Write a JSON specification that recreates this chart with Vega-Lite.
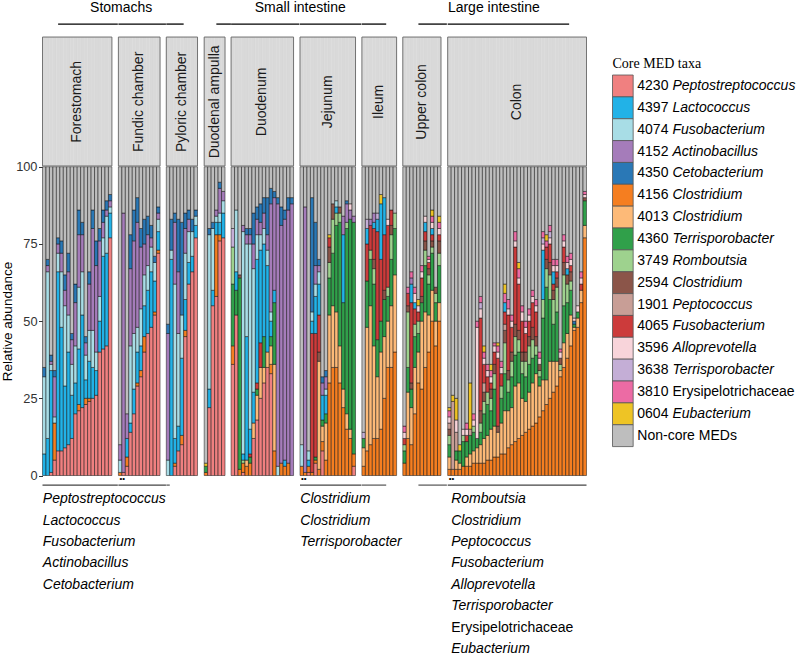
{
"$schema":"https://vega.github.io/schema/vega-lite/v6.json",
"padding":{"left":0.5,"top":0,"right":0,"bottom":0},
"background":"white",
"config":{"view":{"stroke":null,"discreteWidth":{"step":3.47}},"font":"Liberation Sans"},
"spacing":24,
"datasets":{
"taxa":[
{"med":"4230","code":"4230","name":"Peptostreptococcus"},
{"med":"4397","code":"4397","name":"Lactococcus"},
{"med":"4074","code":"4074","name":"Fusobacterium"},
{"med":"4152","code":"4152","name":"Actinobacillus"},
{"med":"4350","code":"4350","name":"Cetobacterium"},
{"med":"4156","code":"4156","name":"Clostridium"},
{"med":"4013","code":"4013","name":"Clostridium"},
{"med":"4360","code":"4360","name":"Terrisporobacter"},
{"med":"3749","code":"3749","name":"Romboutsia"},
{"med":"2594","code":"2594","name":"Clostridium"},
{"med":"1901","code":"1901","name":"Peptococcus"},
{"med":"4065","code":"4065","name":"Fusobacterium"},
{"med":"3596","code":"3596","name":"Alloprevotella"},
{"med":"3638","code":"3638","name":"Terrisporobacter"},
{"med":"3810","code":"3810","name":"Erysipelotrichaceae"},
{"med":"0604","code":"0604","name":"Eubacterium"},
{"med":"noncore","code":"Non-core MEDs","name":""}
],
"bars":[
{"site":"Forestomach","n":1,"4397":7,"4074":25,"4350":3,"noncore":65},
{"site":"Forestomach","n":2,"4397":12,"4074":54,"4152":2,"4350":2,"noncore":30},
{"site":"Forestomach","n":3,"4230":1,"4397":33,"4074":2,"4152":1,"4350":2,"noncore":61},
{"site":"Forestomach","n":4,"4230":5,"4156":12,"4074":2,"4152":13,"4350":2,"noncore":66},
{"site":"Forestomach","n":5,"4230":8,"4397":58,"4074":6,"4152":3,"4350":2,"noncore":23},
{"site":"Forestomach","n":6,"4230":8,"4397":40,"4074":18,"4152":6,"4350":4,"noncore":24},
{"site":"Forestomach","n":7,"4230":9,"4397":20,"4074":26,"4152":5,"4350":5,"noncore":35},
{"site":"Forestomach","n":8,"4230":10,"4397":30,"4074":12,"4152":14,"4350":6,"noncore":28},
{"site":"Forestomach","n":9,"4230":12,"4397":14,"4074":10,"4152":8,"4350":2,"noncore":54},
{"site":"Forestomach","n":10,"4230":20,"4397":10,"4074":12,"4152":14,"4350":6,"noncore":38},
{"site":"Forestomach","n":11,"4230":21,"4156":2,"4397":18,"4074":20,"4152":17,"4350":8,"noncore":14},
{"site":"Forestomach","n":12,"4230":22,"4397":30,"4074":14,"4152":12,"4350":4,"noncore":18},
{"site":"Forestomach","n":13,"4230":23,"4156":2,"4397":6,"4074":8,"4152":4,"4350":2,"noncore":55},
{"site":"Forestomach","n":14,"4230":24,"4156":1,"4397":12,"4074":10,"4152":15,"4350":4,"noncore":34},
{"site":"Forestomach","n":15,"4230":25,"4397":10,"4074":12,"4152":33,"4350":6,"noncore":14},
{"site":"Forestomach","n":16,"4230":26,"4397":8,"4074":6,"4152":28,"4350":8,"noncore":24},
{"site":"Forestomach","n":17,"4230":40,"4397":10,"4074":8,"4152":18,"4350":4,"noncore":20},
{"site":"Forestomach","n":18,"4230":41,"4397":30,"4074":6,"4152":5,"4350":4,"noncore":14},
{"site":"Forestomach","n":19,"4230":42,"4397":30,"4074":12,"4152":2,"4350":3,"noncore":11},
{"site":"Forestomach","n":20,"4230":77,"4397":8,"4074":2,"4152":2,"4350":2,"noncore":9},
{"site":"Fundic chamber","n":1,"4156":1,"4074":4,"4152":5,"noncore":90},
{"site":"Fundic chamber","n":2,"4230":1,"4152":84,"noncore":15},
{"site":"Fundic chamber","n":3,"4230":3,"4156":3,"4397":6,"4152":8,"noncore":80},
{"site":"Fundic chamber","n":4,"4230":14,"4397":3,"4074":25,"4152":25,"4350":11,"noncore":22},
{"site":"Fundic chamber","n":5,"4230":20,"4397":8,"4074":18,"4152":30,"4350":10,"noncore":14},
{"site":"Fundic chamber","n":6,"4230":29,"4156":1,"4397":10,"4074":8,"4152":34,"4350":8,"noncore":10},
{"site":"Fundic chamber","n":7,"4230":32,"4156":2,"4397":8,"4074":12,"4152":20,"4350":6,"noncore":20},
{"site":"Fundic chamber","n":8,"4230":40,"4156":5,"4397":10,"4074":10,"4152":10,"4350":8,"noncore":17},
{"site":"Fundic chamber","n":9,"4230":46,"4397":14,"4074":8,"4152":10,"4350":6,"noncore":16},
{"site":"Fundic chamber","n":10,"4230":48,"4397":18,"4074":8,"4152":3,"4350":4,"noncore":19},
{"site":"Fundic chamber","n":11,"4230":52,"4156":1,"4397":10,"4074":6,"4350":2,"noncore":29},
{"site":"Fundic chamber","n":12,"4230":72,"4156":1,"4397":6,"4074":4,"4152":2,"4350":2,"noncore":13},
{"site":"Pyloric chamber","n":1,"4074":5,"4152":41,"4350":3,"noncore":51},
{"site":"Pyloric chamber","n":2,"4397":70,"4074":3,"4350":10,"noncore":17},
{"site":"Pyloric chamber","n":3,"4230":3,"4156":1,"4397":8,"4074":50,"4152":20,"4350":3,"noncore":15},
{"site":"Pyloric chamber","n":4,"4230":8,"4397":8,"4074":30,"4152":20,"4350":17,"noncore":17},
{"site":"Pyloric chamber","n":5,"4230":10,"4156":3,"4397":25,"4074":14,"4350":30,"noncore":18},
{"site":"Pyloric chamber","n":6,"4230":45,"4156":2,"4397":10,"4074":15,"4152":8,"4350":5,"noncore":15},
{"site":"Pyloric chamber","n":7,"4230":62,"4397":7,"4074":10,"4152":4,"4350":3,"noncore":14},
{"site":"Pyloric chamber","n":8,"4230":66,"4397":5,"4074":8,"4350":4,"noncore":17},
{"site":"Pyloric chamber","n":9,"4230":77,"4397":4,"4074":3,"4350":2,"noncore":14},
{"site":"Duodenal ampulla","n":1,"4156":1,"4360":2,"0604":1,"noncore":96},
{"site":"Duodenal ampulla","n":2,"4230":22,"4397":6,"4074":50,"4350":2,"noncore":20},
{"site":"Duodenal ampulla","n":3,"4230":55,"4397":5,"4074":20,"4350":2,"noncore":18},
{"site":"Duodenal ampulla","n":4,"4230":58,"4156":20,"4397":4,"4074":2,"4152":2,"noncore":14},
{"site":"Duodenal ampulla","n":5,"4230":76,"4156":2,"4397":4,"4074":3,"4152":8,"4350":2,"noncore":5},
{"site":"Duodenal ampulla","n":6,"4230":77,"4397":8,"4074":4,"4152":3,"noncore":8},
{"site":"Duodenum","n":1,"4230":36,"4156":6,"4360":20,"3749":12,"3638":6,"noncore":20},
{"site":"Duodenum","n":2,"4230":52,"4360":8,"4397":6,"4074":20,"noncore":14},
{"site":"Duodenum","n":3,"4156":2,"4360":62,"2594":1,"noncore":35},
{"site":"Duodenum","n":4,"4230":1,"4156":3,"3749":1,"4397":2,"4074":72,"4152":2,"noncore":19},
{"site":"Duodenum","n":5,"4156":3,"4013":2,"4397":40,"4074":30,"4152":3,"4350":2,"noncore":20},
{"site":"Duodenum","n":6,"4156":4,"4360":2,"4065":1,"4397":8,"4074":60,"4152":3,"4350":2,"noncore":20},
{"site":"Duodenum","n":7,"4230":12,"4013":5,"4397":10,"4074":40,"4152":8,"4350":10,"noncore":15},
{"site":"Duodenum","n":8,"4230":18,"4013":8,"4360":2,"4065":2,"4397":40,"4074":8,"4152":5,"4350":4,"noncore":13},
{"site":"Duodenum","n":9,"4230":25,"4013":10,"4065":8,"4397":30,"4074":5,"4152":4,"4350":6,"noncore":12},
{"site":"Duodenum","n":10,"4230":30,"4013":5,"4360":10,"4397":30,"4074":5,"4152":5,"4350":5,"noncore":10},
{"site":"Duodenum","n":11,"4230":35,"4013":5,"4397":28,"4074":5,"4152":5,"4350":12,"noncore":10},
{"site":"Duodenum","n":12,"4230":33,"4156":3,"4013":6,"4360":3,"4397":5,"4074":3,"4152":35,"4350":5,"noncore":7},
{"site":"Duodenum","n":13,"4156":8,"4013":28,"4360":20,"4397":4,"4152":30,"4350":2,"noncore":8},
{"site":"Duodenum","n":14,"4074":3,"4152":85,"4350":2,"noncore":10},
{"site":"Duodenum","n":15,"4156":4,"4152":77,"4350":6,"noncore":13},
{"site":"Duodenum","n":16,"4156":3,"4397":2,"4152":78,"4350":3,"noncore":14},
{"site":"Duodenum","n":17,"4156":4,"4152":82,"4350":4,"noncore":10},
{"site":"Duodenum","n":18,"4152":88,"4350":2,"noncore":10},
{"site":"Jejunum","n":1,"4156":3,"4074":7,"noncore":90},
{"site":"Jejunum","n":2,"4156":1,"4152":86,"noncore":13},
{"site":"Jejunum","n":3,"4230":1,"4156":2,"4397":2,"4074":3,"noncore":92},
{"site":"Jejunum","n":4,"4156":1,"4065":45,"4397":4,"4074":3,"4350":37,"noncore":10},
{"site":"Jejunum","n":5,"4230":4,"4156":1,"4360":1,"4065":40,"4397":12,"4074":4,"4152":6,"4350":14,"noncore":18},
{"site":"Jejunum","n":6,"4156":2,"4013":35,"2594":3,"4065":12,"4397":10,"4074":4,"4152":2,"4350":2,"noncore":30},
{"site":"Jejunum","n":7,"4230":8,"4156":3,"4013":5,"4360":2,"4397":8,"4152":4,"4350":2,"noncore":68},
{"site":"Jejunum","n":8,"4156":5,"4013":12,"4360":3,"4397":6,"4074":2,"4152":4,"4350":2,"noncore":66},
{"site":"Jejunum","n":9,"4156":30,"4013":22,"4360":12,"3749":5,"2594":5,"4065":3,"0604":1,"noncore":22},
{"site":"Jejunum","n":10,"4156":35,"4013":20,"4360":17,"3749":11,"2594":5,"noncore":12},
{"site":"Jejunum","n":11,"4156":35,"4013":18,"4360":28,"3749":4,"4397":2,"4074":2,"noncore":11},
{"site":"Jejunum","n":12,"4156":30,"4013":12,"4360":40,"3749":3,"2594":2,"noncore":13},
{"site":"Jejunum","n":13,"4156":22,"4013":6,"4360":28,"4397":22,"4152":6,"noncore":16},
{"site":"Jejunum","n":14,"4156":15,"4013":5,"4360":60,"3749":2,"4152":6,"4350":1,"noncore":11},
{"site":"Jejunum","n":15,"4156":12,"4013":3,"4360":68,"3596":2,"4152":3,"noncore":12},
{"site":"Jejunum","n":16,"4230":3,"4156":4,"4360":75,"4152":2,"noncore":16},
{"site":"Ileum","n":1,"4156":3,"4013":6,"4360":3,"3638":2,"noncore":86},
{"site":"Ileum","n":2,"4156":8,"4013":40,"4360":15,"4065":12,"4397":5,"3638":3,"noncore":17},
{"site":"Ileum","n":3,"4156":10,"4013":45,"4360":15,"3749":3,"4065":8,"4152":2,"noncore":17},
{"site":"Ileum","n":4,"4156":12,"4013":30,"4360":20,"3749":5,"2594":3,"4065":10,"4397":2,"4152":3,"noncore":15},
{"site":"Ileum","n":5,"4156":12,"4013":20,"4360":12,"4065":35,"4397":4,"3638":2,"noncore":15},
{"site":"Ileum","n":6,"4156":15,"4013":25,"4360":10,"4065":20,"4397":18,"0604":3,"noncore":9},
{"site":"Ileum","n":7,"4156":25,"4013":20,"4360":12,"2594":3,"4065":18,"4397":12,"noncore":10},
{"site":"Ileum","n":8,"4156":35,"4013":15,"4360":8,"3749":3,"4065":20,"3596":2,"noncore":17},
{"site":"Ileum","n":9,"4156":35,"4013":20,"4360":15,"3749":8,"2594":3,"4065":5,"noncore":14},
{"site":"Ileum","n":10,"4156":40,"4013":25,"4360":15,"3749":5,"noncore":15},
{"site":"Upper colon","n":1,"4156":4,"4360":4,"3749":2,"4065":2,"3596":2,"3810":2,"noncore":84},
{"site":"Upper colon","n":2,"4156":12,"4013":15,"4360":8,"3749":18,"2594":2,"4065":4,"3810":2,"noncore":39},
{"site":"Upper colon","n":3,"4156":10,"4013":12,"4360":6,"2594":2,"4065":26,"4397":6,"4152":2,"3810":2,"noncore":34},
{"site":"Upper colon","n":4,"4156":20,"4013":15,"4360":10,"3749":4,"4065":5,"4397":2,"3596":3,"3810":2,"noncore":39},
{"site":"Upper colon","n":5,"4156":30,"4013":10,"4360":6,"3749":4,"4065":3,"3596":2,"0604":2,"noncore":43},
{"site":"Upper colon","n":6,"4156":28,"4013":22,"4360":6,"2594":2,"4065":6,"3596":2,"3810":2,"noncore":32},
{"site":"Upper colon","n":7,"4156":35,"4013":18,"4360":15,"3749":5,"2594":3,"4065":3,"4397":3,"3596":2,"noncore":16},
{"site":"Upper colon","n":8,"4156":40,"4013":12,"4360":10,"3749":3,"2594":2,"4065":2,"3596":1,"3810":1,"noncore":29},
{"site":"Upper colon","n":9,"4156":50,"4013":10,"4360":12,"3749":2,"2594":2,"4065":2,"4397":2,"3596":2,"3810":2,"0604":2,"noncore":14},
{"site":"Upper colon","n":10,"4156":42,"4013":8,"4360":6,"3749":3,"2594":2,"noncore":39},
{"site":"Upper colon","n":11,"4156":50,"4013":6,"4360":12,"3749":4,"2594":4,"4065":2,"3596":2,"3810":2,"0604":2,"noncore":16},
{"site":"Colon","n":1,"4156":2,"4013":4,"4360":4,"3749":3,"2594":2,"1901":2,"3596":2,"3810":2,"0604":1,"noncore":78},
{"site":"Colon","n":2,"4156":2,"1901":22,"0604":2,"noncore":74},
{"site":"Colon","n":3,"4156":2,"4013":3,"4360":3,"1901":6,"3596":4,"0604":7,"noncore":75},
{"site":"Colon","n":4,"4156":2,"4013":2,"4360":4,"0604":2,"noncore":90},
{"site":"Colon","n":5,"4156":3,"4360":8,"3749":2,"3596":2,"noncore":85},
{"site":"Colon","n":6,"4156":3,"4013":3,"4360":5,"4065":2,"3596":2,"3810":2,"noncore":83},
{"site":"Colon","n":7,"4156":3,"4013":4,"4360":6,"1901":2,"0604":15,"noncore":70},
{"site":"Colon","n":8,"4156":4,"4013":4,"4360":6,"3749":2,"3596":2,"3810":2,"noncore":80},
{"site":"Colon","n":9,"4156":4,"4013":5,"4360":3,"3596":36,"3810":2,"noncore":50},
{"site":"Colon","n":10,"4156":4,"4013":6,"4360":4,"3749":3,"2594":4,"4065":30,"3596":3,"3638":2,"3810":2,"noncore":42},
{"site":"Colon","n":11,"4156":4,"4013":8,"4360":8,"3749":4,"2594":3,"1901":3,"4065":6,"3596":2,"3810":2,"0604":2,"noncore":58},
{"site":"Colon","n":12,"4156":5,"4013":8,"4360":10,"3749":4,"4065":5,"3596":2,"3810":2,"noncore":64},
{"site":"Colon","n":13,"4156":5,"4013":10,"4360":6,"3749":4,"2594":3,"4065":2,"3596":2,"3810":2,"0604":2,"noncore":64},
{"site":"Colon","n":14,"4156":6,"4013":10,"4360":12,"3749":5,"2594":3,"4065":4,"3596":2,"3810":1,"noncore":57},
{"site":"Colon","n":15,"4156":6,"4013":8,"2594":2,"4065":22,"3596":2,"3810":2,"0604":1,"noncore":57},
{"site":"Colon","n":16,"4156":7,"4013":10,"4360":8,"3749":4,"4065":4,"3596":2,"3810":2,"noncore":63},
{"site":"Colon","n":17,"4156":7,"4013":14,"4360":12,"3749":10,"2594":4,"1901":2,"4065":4,"4397":3,"3810":3,"0604":3,"noncore":38},
{"site":"Colon","n":18,"4156":9,"4013":12,"4360":6,"3749":4,"2594":3,"4065":18,"3596":2,"3810":3,"noncore":43},
{"site":"Colon","n":19,"4156":10,"4013":12,"4360":10,"3749":5,"2594":3,"4065":8,"3596":2,"3810":2,"noncore":48},
{"site":"Colon","n":20,"4156":11,"4013":18,"4360":10,"3749":6,"2594":4,"4065":25,"3596":2,"3810":3,"noncore":21},
{"site":"Colon","n":21,"4156":12,"4013":18,"4360":10,"3749":4,"2594":3,"4065":15,"3596":2,"3810":3,"0604":2,"noncore":31},
{"site":"Colon","n":22,"4156":13,"4013":12,"4360":8,"3749":4,"2594":3,"4065":10,"3596":3,"3810":2,"noncore":45},
{"site":"Colon","n":23,"4156":14,"4013":10,"4360":8,"3749":5,"2594":3,"4065":6,"3596":2,"3810":2,"noncore":50},
{"site":"Colon","n":24,"4156":15,"4013":12,"4360":9,"3749":6,"2594":3,"4065":5,"3596":2,"3810":2,"noncore":46},
{"site":"Colon","n":25,"4156":16,"4013":14,"4360":8,"3749":6,"2594":4,"4065":8,"3596":2,"3810":2,"noncore":40},
{"site":"Colon","n":26,"4156":17,"4013":16,"4360":6,"3749":3,"2594":3,"4065":8,"3596":2,"3810":2,"noncore":43},
{"site":"Colon","n":27,"4156":19,"4013":10,"4360":3,"3749":2,"2594":2,"3596":2,"3810":2,"noncore":60},
{"site":"Colon","n":28,"4156":21,"4013":10,"4360":20,"3749":6,"4397":16,"3596":2,"3638":2,"3810":2,"noncore":21},
{"site":"Colon","n":29,"4156":23,"4013":8,"4360":30,"3749":6,"2594":3,"4065":4,"3810":2,"0604":2,"noncore":22},
{"site":"Colon","n":30,"4156":25,"4013":12,"4360":20,"3749":8,"2594":4,"4065":6,"3596":2,"3638":2,"3810":2,"noncore":19},
{"site":"Colon","n":31,"4156":27,"4013":10,"4360":12,"3749":8,"2594":3,"4065":2,"4397":4,"3596":2,"3810":2,"noncore":30},
{"site":"Colon","n":32,"4156":29,"4013":8,"4360":16,"3749":8,"2594":3,"4065":2,"3596":2,"3810":2,"noncore":30},
{"site":"Colon","n":33,"4156":32,"4013":2,"3749":2,"2594":2,"3596":2,"3810":1,"noncore":59},
{"site":"Colon","n":34,"4156":35,"4013":8,"4360":12,"3749":10,"2594":4,"4065":5,"3596":2,"3810":2,"noncore":22},
{"site":"Colon","n":35,"4156":38,"4013":8,"4360":10,"3749":6,"2594":3,"4397":2,"3596":2,"3810":2,"noncore":29},
{"site":"Colon","n":36,"4156":42,"4013":10,"4360":8,"3749":3,"2594":3,"4065":2,"3596":2,"3810":2,"noncore":28},
{"site":"Colon","n":37,"4156":47,"4013":1,"4360":1,"4350":1,"3596":1,"noncore":49},
{"site":"Colon","n":38,"4156":48,"4013":3,"4360":2,"3596":2,"noncore":45},
{"site":"Colon","n":39,"4156":56,"4013":4,"4065":2,"3596":2,"3810":2,"noncore":34},
{"site":"Colon","n":40,"4156":77,"4013":4,"4360":8,"2594":1,"3596":1,"3810":1,"noncore":8}
]
},
"hconcat":[
{
"data":{"name":"bars"},
"facet":{"column":{"field":"site","type":"nominal","title":null,"header":{"labels":false,"title":null},
"sort":["Forestomach","Fundic chamber","Pyloric chamber","Duodenal ampulla","Duodenum","Jejunum","Ileum","Upper colon","Colon"]}},
"spacing":5.9,
"align":"none",
"bounds":"flush",
"resolve":{"scale":{"x":"independent"}},
"spec":{
"width":{"step":3.47},
"height":656,
"layer":[
{
"transform":[
{"fold":["4230","4156","4013","4360","3749","2594","1901","4065","4397","4074","4152","4350","3596","3638","3810","0604","noncore"],"as":["med","pct"]},
{"filter":"datum.pct > 0"},
{"calculate":"indexof(['4230','4156','4013','4360','3749','2594','1901','4065','4397','4074','4152','4350','3596','3638','3810','0604','noncore'], datum.med)","as":"ord"}
],
"mark":{"type":"bar","stroke":"#111111","strokeWidth":0.5},
"encoding":{
"x":{"field":"n","type":"ordinal","axis":null,"scale":{"paddingInner":0,"paddingOuter":0}},
"y":{"field":"pct","type":"quantitative","stack":"zero","scale":{"domain":[-58.45,154],"nice":false,"zero":false},
"axis":{"values":[0,25,50,75,100],"domain":false,"grid":false,"tickSize":4,"tickColor":"#333333","labelFontSize":12.8,"labelColor":"#333333","labelPadding":1.5,"title":"Relative abundance","titleFontSize":13.5,"titleFontWeight":"normal","titleColor":"#000000","titlePadding":1,"titleY":321}},
"color":{"field":"med","type":"nominal","legend":null,"scale":{"domain":["4230","4397","4074","4152","4350","4156","4013","4360","3749","2594","1901","4065","3596","3638","3810","0604","noncore"],"range":["#F08080","#22B2E7","#A8DDE6","#A57CBA","#2A78B6","#F57E20","#FDBA78","#30A04A","#9ED28E","#8B5549","#C89E96","#CC3B3B","#F8D4DA","#C4AED6","#EC6BA4","#EEC425","#BEBEBE"]}},
"order":{"field":"ord","type":"quantitative"}
}
},
{
"mark":{"type":"rect","fill":"#D9D9D9","stroke":"#D9D9D9","strokeWidth":0.4},
"encoding":{"x":{"field":"n","type":"ordinal"},"y":{"datum":100.25,"type":"quantitative"},"y2":{"datum":142}}
},
{
"transform":[{"joinaggregate":[{"op":"max","field":"n","as":"nmax"}],"groupby":["site"]},{"filter":"datum.n == 1"}],
"mark":{"type":"rule","color":"#666666","strokeWidth":0.9},
"encoding":{"x":{"field":"nmax","type":"ordinal","bandPosition":1},"x2":{"value":0},"y":{"datum":142,"type":"quantitative"}}
},
{
"transform":[{"joinaggregate":[{"op":"max","field":"n","as":"nmax"}],"groupby":["site"]},{"filter":"datum.n == 1"}],
"mark":{"type":"rule","color":"#666666","strokeWidth":0.9},
"encoding":{"x":{"field":"nmax","type":"ordinal","bandPosition":1},"x2":{"value":0},"y":{"datum":100.25,"type":"quantitative"}}
},
{
"transform":[{"filter":"datum.n == 1"}],
"mark":{"type":"rule","color":"#666666","strokeWidth":0.9},
"encoding":{"x":{"field":"n","type":"ordinal","bandPosition":0},"y":{"datum":100.25,"type":"quantitative"},"y2":{"datum":142}}
},
{
"transform":[{"joinaggregate":[{"op":"max","field":"n","as":"nmax"}],"groupby":["site"]},{"filter":"datum.n == 1"}],
"mark":{"type":"rule","color":"#666666","strokeWidth":0.9},
"encoding":{"x":{"field":"nmax","type":"ordinal","bandPosition":1},"y":{"datum":100.25,"type":"quantitative"},"y2":{"datum":142}}
},
{
"transform":[{"joinaggregate":[{"op":"max","field":"n","as":"nmax"}],"groupby":["site"]},{"filter":"datum.n == 1 && datum.nmax % 2 == 0"},{"calculate":"datum.nmax / 2","as":"mid"}],
"mark":{"type":"text","angle":270,"fontSize":14,"color":"#1A1A1A","align":"center","baseline":"middle"},
"encoding":{"x":{"field":"mid","type":"ordinal","bandPosition":1},"y":{"datum":121,"type":"quantitative"},"text":{"field":"site"}}
},
{
"transform":[{"joinaggregate":[{"op":"max","field":"n","as":"nmax"}],"groupby":["site"]},{"filter":"datum.n == 1 && datum.nmax % 2 == 1"},{"calculate":"(datum.nmax + 1) / 2","as":"mid"}],
"mark":{"type":"text","angle":270,"fontSize":14,"color":"#1A1A1A","align":"center","baseline":"middle"},
"encoding":{"x":{"field":"mid","type":"ordinal","bandPosition":0.5},"y":{"datum":121,"type":"quantitative"},"text":{"field":"site"}}
},
{
"transform":[{"filter":"datum.n == 1 && datum.site == 'Fundic chamber'"}],
"mark":{"type":"text","text":"Stomachs","fontSize":14,"color":"#000000","align":"center","baseline":"middle","dx":-18},
"encoding":{"x":{"datum":6,"type":"ordinal","bandPosition":1},"y":{"datum":151.3,"type":"quantitative"}}
},
{
"transform":[{"filter":"datum.n == 1 && datum.site == 'Jejunum'"}],
"mark":{"type":"text","text":"Small intestine","fontSize":14,"color":"#000000","align":"center","baseline":"middle","dx":-27.5},
"encoding":{"x":{"datum":8,"type":"ordinal","bandPosition":1},"y":{"datum":151.3,"type":"quantitative"}}
},
{
"transform":[{"filter":"datum.n == 1 && datum.site == 'Colon'"}],
"mark":{"type":"text","text":"Large intestine","fontSize":14,"color":"#000000","align":"center","baseline":"middle","dx":-23.3},
"encoding":{"x":{"datum":20,"type":"ordinal","bandPosition":1},"y":{"datum":151.3,"type":"quantitative"}}
},
{
"transform":[{"joinaggregate":[{"op":"max","field":"n","as":"nmax"}],"groupby":["site"]},{"filter":"datum.n == 1 && indexof(['Fundic chamber','Duodenum','Jejunum'], datum.site) >= 0"}],
"mark":{"type":"rule","color":"#000000","strokeWidth":1.3,"xOffset":5.9,"x2Offset":0},
"encoding":{"x":{"field":"nmax","type":"ordinal","bandPosition":1},"x2":{"value":0},"y":{"datum":146.2,"type":"quantitative"}}
},
{
"transform":[{"joinaggregate":[{"op":"max","field":"n","as":"nmax"}],"groupby":["site"]},{"filter":"datum.n == 1 && indexof(['Forestomach','Upper colon'], datum.site) >= 0"}],
"mark":{"type":"rule","color":"#000000","strokeWidth":1.3,"xOffset":5.9,"x2Offset":0},
"encoding":{"x":{"field":"nmax","type":"ordinal","bandPosition":1},"x2":{"datum":5},"y":{"datum":146.2,"type":"quantitative"}}
},
{
"transform":[{"joinaggregate":[{"op":"max","field":"n","as":"nmax"}],"groupby":["site"]},{"filter":"datum.n == 1 && datum.site == 'Duodenal ampulla'"}],
"mark":{"type":"rule","color":"#000000","strokeWidth":1.3,"xOffset":5.9,"x2Offset":0},
"encoding":{"x":{"field":"nmax","type":"ordinal","bandPosition":1},"x2":{"datum":4},"y":{"datum":146.2,"type":"quantitative"}}
},
{
"transform":[{"filter":"datum.n == 1 && datum.site == 'Pyloric chamber'"}],
"mark":{"type":"rule","color":"#000000","strokeWidth":1.3},
"encoding":{"x":{"datum":5,"type":"ordinal","bandPosition":1},"x2":{"value":0},"y":{"datum":146.2,"type":"quantitative"}}
},
{
"transform":[{"filter":"datum.n == 1 && datum.site == 'Ileum'"}],
"mark":{"type":"rule","color":"#000000","strokeWidth":1.3},
"encoding":{"x":{"datum":7,"type":"ordinal","bandPosition":1},"x2":{"value":0},"y":{"datum":146.2,"type":"quantitative"}}
},
{
"transform":[{"filter":"datum.n == 1 && datum.site == 'Colon'"}],
"mark":{"type":"rule","color":"#000000","strokeWidth":1.3},
"encoding":{"x":{"datum":35,"type":"ordinal","bandPosition":1},"x2":{"value":0},"y":{"datum":146.2,"type":"quantitative"}}
},
{
"transform":[{"joinaggregate":[{"op":"max","field":"n","as":"nmax"}],"groupby":["site"]},{"filter":"datum.n == 1 && indexof(['Forestomach','Fundic chamber','Jejunum'], datum.site) >= 0"}],
"mark":{"type":"rule","color":"#444444","strokeWidth":1.1,"xOffset":5.9,"x2Offset":0},
"encoding":{"x":{"field":"nmax","type":"ordinal","bandPosition":1},"x2":{"value":0},"y":{"datum":-3.1,"type":"quantitative"}}
},
{
"transform":[{"joinaggregate":[{"op":"max","field":"n","as":"nmax"}],"groupby":["site"]},{"filter":"datum.n == 1 && datum.site == 'Colon'"}],
"mark":{"type":"rule","color":"#444444","strokeWidth":1.1},
"encoding":{"x":{"field":"nmax","type":"ordinal","bandPosition":1},"x2":{"value":0},"y":{"datum":-3.1,"type":"quantitative"}}
},
{
"transform":[{"filter":"datum.n == 1 && datum.site == 'Pyloric chamber'"}],
"mark":{"type":"rule","color":"#444444","strokeWidth":1.1},
"encoding":{"x":{"datum":1,"type":"ordinal","bandPosition":1},"x2":{"value":0},"y":{"datum":-3.1,"type":"quantitative"}}
},
{
"transform":[{"filter":"datum.n == 1 && datum.site == 'Ileum'"}],
"mark":{"type":"rule","color":"#444444","strokeWidth":1.1},
"encoding":{"x":{"datum":7,"type":"ordinal","bandPosition":1},"x2":{"value":0},"y":{"datum":-3.1,"type":"quantitative"}}
},
{
"transform":[{"joinaggregate":[{"op":"max","field":"n","as":"nmax"}],"groupby":["site"]},{"filter":"datum.n == 1 && datum.site == 'Upper colon'"}],
"mark":{"type":"rule","color":"#444444","strokeWidth":1.1,"xOffset":5.9,"x2Offset":0},
"encoding":{"x":{"field":"nmax","type":"ordinal","bandPosition":1},"x2":{"datum":5},"y":{"datum":-3.1,"type":"quantitative"}}
},
{
"transform":[{"filter":"datum.n == 1 && indexof(['Fundic chamber','Jejunum','Colon'], datum.site) >= 0"}],
"mark":{"type":"text","text":"••","fontSize":8,"color":"#000000","align":"left","baseline":"middle","dx":1},
"encoding":{"x":{"field":"n","type":"ordinal","bandPosition":0},"y":{"datum":-1.2,"type":"quantitative"}}
},
{
"transform":[{"filter":"datum.n == 1 && datum.site == 'Forestomach'"}],
"mark":{"type":"text","text":["Peptostreptococcus","Lactococcus","Fusobacterium","Actinobacillus","Cetobacterium"],"fontSize":14,"fontStyle":"italic","lineHeight":21.4,"color":"#000000","align":"left","baseline":"alphabetic","dx":0.3},
"encoding":{"x":{"field":"n","type":"ordinal","bandPosition":0},"y":{"datum":-8.99,"type":"quantitative"}}
},
{
"transform":[{"filter":"datum.n == 1 && datum.site == 'Jejunum'"}],
"mark":{"type":"text","text":["Clostridium","Clostridium","Terrisporobacter"],"fontSize":14,"fontStyle":"italic","lineHeight":21.4,"color":"#000000","align":"left","baseline":"alphabetic","dx":0.3},
"encoding":{"x":{"field":"n","type":"ordinal","bandPosition":0},"y":{"datum":-8.99,"type":"quantitative"}}
},
{
"transform":[{"filter":"datum.n == 1 && datum.site == 'Colon'"}],
"mark":{"type":"text","text":["Romboutsia","Clostridium","Peptococcus","Fusobacterium","Alloprevotella","Terrisporobacter"],"fontSize":14,"fontStyle":"italic","lineHeight":21.4,"color":"#000000","align":"left","baseline":"alphabetic","dx":3.5},
"encoding":{"x":{"field":"n","type":"ordinal","bandPosition":0},"y":{"datum":-8.99,"type":"quantitative"}}
},
{
"transform":[{"filter":"datum.n == 1 && datum.site == 'Colon'"}],
"mark":{"type":"text","text":"Erysipelotrichaceae","fontSize":14,"color":"#000000","align":"left","baseline":"alphabetic","dx":3.5},
"encoding":{"x":{"field":"n","type":"ordinal","bandPosition":0},"y":{"datum":-50.58,"type":"quantitative"}}
},
{
"transform":[{"filter":"datum.n == 1 && datum.site == 'Colon'"}],
"mark":{"type":"text","text":"Eubacterium","fontSize":14,"fontStyle":"italic","color":"#000000","align":"left","baseline":"alphabetic","dx":3.5},
"encoding":{"x":{"field":"n","type":"ordinal","bandPosition":0},"y":{"datum":-57.47,"type":"quantitative"}}
}
]
}
},
{
"data":{"name":"taxa"},
"width":186,
"height":656,
"layer":[
{
"mark":{"type":"rect","stroke":"#555555","strokeWidth":0.8},
"encoding":{
"y":{"field":"med","type":"nominal","axis":null,"scale":{"domain":["title","4230","4397","4074","4152","4350","4156","4013","4360","3749","2594","1901","4065","3596","3638","3810","0604","noncore"],"range":[53.15,446.6],"paddingInner":0,"paddingOuter":0}},
"x":{"datum":0,"type":"quantitative","axis":null,"scale":{"domain":[0,9],"nice":false,"zero":false}},
"x2":{"datum":1},
"color":{"field":"med","type":"nominal","legend":null}
}
},
{
"mark":{"type":"text","align":"left","baseline":"middle","fontSize":14,"color":"#000000"},
"encoding":{"y":{"field":"med","type":"nominal"},"x":{"datum":1.2,"type":"quantitative"},"text":{"field":"code"}}
},
{
"transform":[{"filter":"datum.name != 'Erysipelotrichaceae'"}],
"mark":{"type":"text","align":"left","baseline":"middle","fontSize":14,"fontStyle":"italic","color":"#000000"},
"encoding":{"y":{"field":"med","type":"nominal"},"x":{"datum":2.9,"type":"quantitative"},"text":{"field":"name"}}
},
{
"transform":[{"filter":"datum.name == 'Erysipelotrichaceae'"}],
"mark":{"type":"text","align":"left","baseline":"middle","fontSize":14,"color":"#000000"},
"encoding":{"y":{"field":"med","type":"nominal"},"x":{"datum":2.9,"type":"quantitative"},"text":{"field":"name"}}
},
{
"transform":[{"filter":"datum.med == '4230'"}],
"mark":{"type":"text","text":"Core MED taxa","align":"left","baseline":"middle","font":"Liberation Serif","fontSize":14,"color":"#000000"},
"encoding":{"y":{"datum":"title","type":"nominal"},"x":{"datum":0,"type":"quantitative"}}
}
]
}
]
}
